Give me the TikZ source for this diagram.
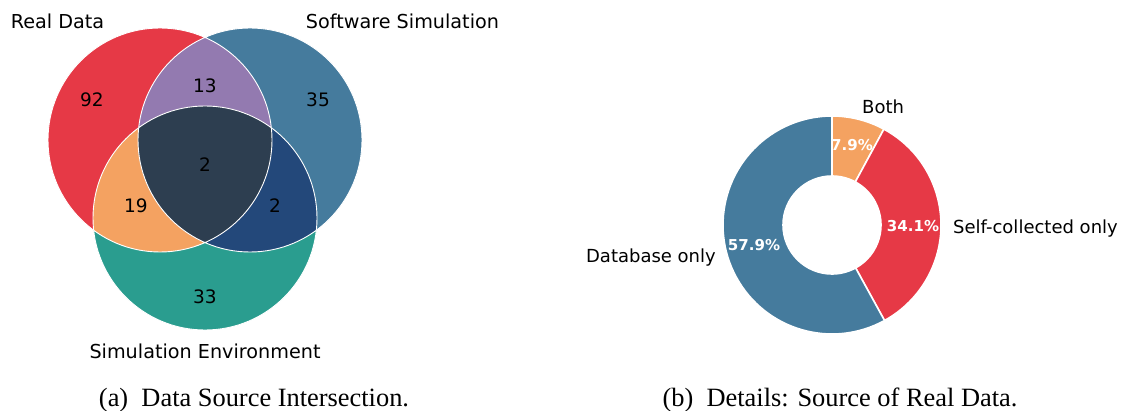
\documentclass[tikz,border=0pt]{standalone}
\usepackage{fontspec}
\usetikzlibrary{calc}
\newfontfamily\plotfont{DejaVu Sans}
\newfontfamily\capfont{Liberation Serif}
\definecolor{cRed}{HTML}{E63946}
\definecolor{cBlue}{HTML}{457B9D}
\definecolor{cGreen}{HTML}{2A9D8F}
\definecolor{cPurple}{HTML}{937AB0}
\definecolor{cOrange}{HTML}{F4A261}
\definecolor{cNavy}{HTML}{23487A}
\definecolor{cSlate}{HTML}{2D3E50}
\tikzset{
  setlabel/.style={font=\plotfont\fontsize{19.2}{21}\selectfont, inner sep=0pt},
  count/.style={font=\plotfont\fontsize{18.5}{20}\selectfont, inner sep=0pt},
  slicelabel/.style={font=\plotfont\fontsize{18}{20}\selectfont, inner sep=0pt},
  pct/.style={font=\plotfont\bfseries\fontsize{15}{17}\selectfont, text=white, inner sep=0pt},
  caption/.style={font=\capfont\fontsize{26.4}{28}\selectfont, inner sep=0pt},
}
\begin{document}
\begin{tikzpicture}[x=1pt,y=1pt]
\useasboundingbox (0,0) rectangle (1126,410);

% ---------- Venn diagram ----------
\def\vr{112}
\coordinate (cr) at (160,270);
\coordinate (cb) at (250,270);
\coordinate (cg) at (205,192);

\fill[cRed]   (cr) circle (\vr);
\fill[cBlue]  (cb) circle (\vr);
\fill[cGreen] (cg) circle (\vr);
\begin{scope}
  \clip (cr) circle (\vr);
  \fill[cPurple] (cb) circle (\vr);
  \fill[cOrange] (cg) circle (\vr);
\end{scope}
\begin{scope}
  \clip (cb) circle (\vr);
  \fill[cNavy] (cg) circle (\vr);
  \clip (cg) circle (\vr);
  \fill[cSlate] (cr) circle (\vr);
\end{scope}
\draw[white, line width=0.9pt] (cr) circle (\vr) (cb) circle (\vr) (cg) circle (\vr);

\node[count] (n92) at (92,310) {92};
\node[count] (n13) at (205,324) {13};
\node[count] (n35) at (318,310) {35};
\node[count] (n2a) at (205,245) {2};
\node[count] (n19) at (136,204) {19};
\node[count] (n2b) at (275,204) {2};
\node[count] (n33) at (205,113) {33};

\node[setlabel, anchor=base] (lreal) at (57.5,381) {Real Data};
\node[setlabel, anchor=base] (lsoft) at (402.5,381) {Software Simulation};
\node[setlabel, anchor=base] (lenv) at (205,52) {Simulation Environment};

% ---------- Donut chart ----------
\coordinate (dc) at (832,185);
\def\Ro{109}
\def\Ri{49}
\newcommand{\wedgefill}[3]{%
  \fill[#1, draw=white, line width=1.6pt, line join=round]
    ($(dc)+(#2:\Ro)$) arc[start angle=#2, end angle=#3, radius=\Ro]
    -- ($(dc)+(#3:\Ri)$) arc[start angle=#3, end angle=#2, radius=\Ri] -- cycle;}
\wedgefill{cOrange}{90}{61.56}
\wedgefill{cRed}{61.56}{-61.2}
\wedgefill{cBlue}{-61.2}{-270}

\node[pct] (p1) at (852,265) {7.9\%};
\node[pct] (p2) at (913,184) {34.1\%};
\node[pct] (p3) at (754,165) {57.9\%};

\node[slicelabel, anchor=base west] (sboth) at (862,296) {Both};
\node[slicelabel, anchor=base west] (sself) at (953,177) {Self-collected only};
\node[slicelabel, anchor=base east] (sdb) at (716,148) {Database only};

% ---------- Captions ----------
\node[caption, anchor=base] (capa) at (254,3.5) {(a)\ \ Data Source Intersection.};
\node[caption, anchor=base] (capb) at (840,3.5) {(b)\ \ Details: Source of Real Data.};
\end{tikzpicture}
\end{document}
